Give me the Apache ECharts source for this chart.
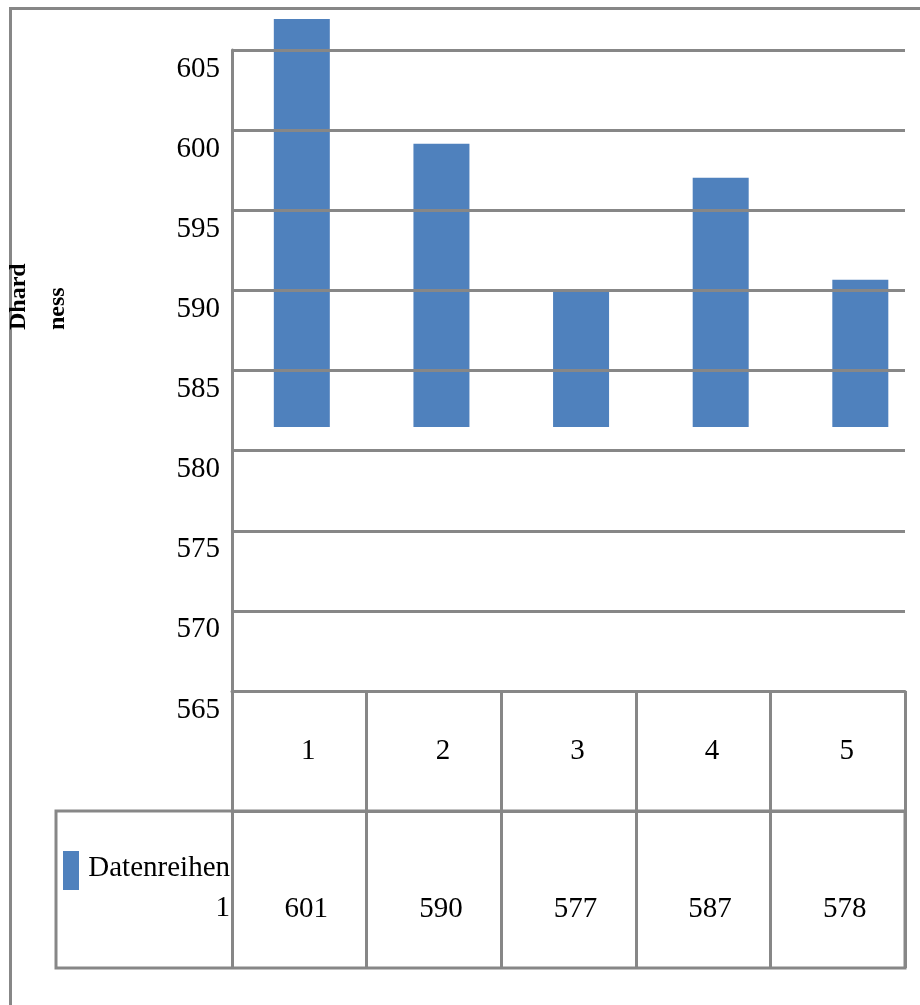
<!DOCTYPE html>
<html>
<head>
<meta charset="utf-8">
<script src="https://cdn.jsdelivr.net/npm/echarts@6/dist/echarts.min.js"></script>
<style>
  html, body { margin: 0; padding: 0; background: #fff; }
  #chart { width: 920px; height: 1005px; }
</style>
</head>
<body>
<div id="chart"></div>
<script>
// Measurements: hardness per sample
const categories = ['1', '2', '3', '4', '5'];
const hardness = [601, 590, 577, 587, 578];
const seriesName = 'Datenreihen 1';
const axisTitle = 'Dhard\nness';

// Visible axis range
const yMin = 565;
const yMax = 605;
const yStep = 5;
// Scale used for the columns themselves
const barScaleMin = 565;
const barScaleMax = 601;
const barSlotMin = 0.5;
const barSlotMax = 5.32;

const FONT = '"Liberation Serif", "Times New Roman", serif';
const GRAY = '#878787';
const BLUE = '#4F81BD';
const FS = 29;

const chart = echarts.init(document.getElementById('chart'), null, { renderer: 'canvas' });

const barData = categories.map((c, i) => [Number(c), hardness[i]]);

const option = {
  animation: false,
  backgroundColor: '#ffffff',
  grid: [
    // axis frame, gridlines and data table
    { left: 232, top: 50, width: 673, height: 641 },
    // columns
    { left: 232, top: 19, width: 673, height: 408 }
  ],
  xAxis: [
    {
      gridIndex: 0,
      type: 'category',
      data: categories,
      position: 'bottom',
      axisLine: { show: true, lineStyle: { color: GRAY, width: 3 } },
      axisTick: { show: true, length: 120, lineStyle: { color: GRAY, width: 3 } },
      axisLabel: {
        color: '#000', fontFamily: FONT, fontSize: FS, lineHeight: 29,
        margin: 46, padding: [0, 0, 0, 18]
      },
      splitLine: { show: false }
    },
    {
      gridIndex: 0,
      type: 'category',
      data: hardness.map(String),
      position: 'bottom',
      offset: 120,
      axisLine: { show: true, lineStyle: { color: GRAY, width: 3 } },
      axisTick: { show: true, length: 157, lineStyle: { color: GRAY, width: 3 } },
      axisLabel: {
        color: '#000', fontFamily: FONT, fontSize: FS, lineHeight: 29,
        margin: 84, padding: [0, 0, 0, 14]
      },
      splitLine: { show: false }
    },
    {
      gridIndex: 1,
      type: 'value',
      min: barSlotMin,
      max: barSlotMax,
      show: false
    }
  ],
  yAxis: [
    {
      gridIndex: 0,
      type: 'value',
      min: yMin,
      max: yMax,
      interval: yStep,
      z: 5,
      axisLine: { show: true, lineStyle: { color: GRAY, width: 3 } },
      axisTick: { show: false },
      axisLabel: {
        color: '#000', fontFamily: FONT, fontSize: FS, lineHeight: 38,
        verticalAlign: 'top', margin: 12
      },
      splitLine: { show: true, lineStyle: { color: GRAY, width: 3 } }
    },
    {
      gridIndex: 1,
      type: 'value',
      min: barScaleMin,
      max: barScaleMax,
      show: false
    }
  ],
  series: [
    {
      name: seriesName,
      type: 'bar',
      xAxisIndex: 2,
      yAxisIndex: 1,
      data: barData,
      barWidth: 56,
      itemStyle: { color: BLUE },
      z: 2
    }
  ],
  graphic: [
    // outer frame (top and left edges)
    {
      type: 'polyline',
      shape: { points: [[10.5, 1005], [10.5, 8.5], [920, 8.5]] },
      style: { stroke: GRAY, lineWidth: 3, fill: null },
      silent: true
    },
    // data table row box
    {
      type: 'rect',
      shape: { x: 56, y: 811, width: 849, height: 157 },
      style: { stroke: GRAY, lineWidth: 3, fill: null },
      silent: true
    },
    // legend key
    {
      type: 'rect',
      shape: { x: 63, y: 851, width: 16, height: 39 },
      style: { fill: BLUE },
      silent: true
    },
    {
      type: 'text',
      x: 230,
      y: 848,
      style: {
        text: seriesName.replace(' ', '\n'),
        fill: '#000',
        font: FS + 'px ' + FONT,
        lineHeight: 40,
        align: 'right',
        verticalAlign: 'top'
      },
      silent: true
    },
    // axis title
    {
      type: 'text',
      x: -1,
      y: 330,
      rotation: Math.PI / 2,
      style: {
        text: axisTitle,
        fill: '#000',
        font: 'bold 24px ' + FONT,
        lineHeight: 39,
        align: 'left',
        verticalAlign: 'top'
      },
      silent: true
    }
  ]
};

chart.setOption(option);
</script>
</body>
</html>
